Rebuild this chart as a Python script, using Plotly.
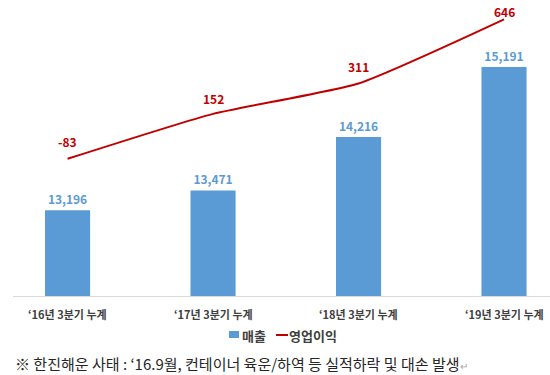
import plotly.graph_objects as go

categories = ["‘16년 3분기 누계", "‘17년 3분기 누계", "‘18년 3분기 누계", "‘19년 3분기 누계"]
sales = [13196, 13471, 14216, 15191]
profit = [-83, 152, 311, 646]
series_names = ["매출", "영업이익"]
sales_labels = [f"{v:,}" for v in sales]
profit_labels = [f"{v:,}" for v in profit]
footnote = "※ 한진해운 사태 : ‘16.9월, 컨테이너 육운/하역 등 실적하락 및 대손 발생"

FONT = "Noto Sans CJK KR"
BLUE = "#5B9BD5"
RED = "#C00000"
xs = list(range(len(categories)))
profit_label_shift = [17, 15, 17, 8]  # pixel offsets of the profit labels above their points

W, H = 550, 375
L, R, T, B = 13, 0, 9, 79
PW, PH = W - L - R, H - T - B


def px(x):
    return (x - L) / PW


def py(y):
    return (H - B - y) / PH


fig = go.Figure()
fig.add_trace(go.Bar(
    x=xs, y=sales, name=series_names[0], width=0.31,
    marker=dict(color=BLUE, line=dict(width=0)),
    text=sales_labels, textposition="outside", cliponaxis=False,
    textfont=dict(family=FONT, size=12, color=BLUE, weight="bold"),
    showlegend=False, hoverinfo="skip",
))
fig.add_trace(go.Scatter(
    x=xs, y=profit, name=series_names[1], yaxis="y2", mode="lines",
    line=dict(color=RED, width=2, shape="spline", smoothing=0.5),
    cliponaxis=False, showlegend=False, hoverinfo="skip",
))

annotations = [
    dict(text=t, xref="x", yref="y2", x=x, y=v, yshift=s, xanchor="center", yanchor="middle",
         showarrow=False, font=dict(family=FONT, size=12, color=RED, weight="bold"))
    for x, v, t, s in zip(xs, profit, profit_labels, profit_label_shift)
]
annotations += [
    dict(text=c, xref="x", yref="paper", x=x, y=py(314), xanchor="center", yanchor="middle",
         showarrow=False, font=dict(family=FONT, size=11, color="#404040", weight="bold"))
    for x, c in zip(xs, categories)
]
# legend (drawn by hand to match the compact Excel legend)
legend_font = dict(family=FONT, size=13, color="#404040", weight="bold")
annotations += [
    dict(text=series_names[0], xref="paper", yref="paper", x=px(240), y=py(335),
         xanchor="left", yanchor="middle", showarrow=False, font=legend_font),
    dict(text=series_names[1], xref="paper", yref="paper", x=px(287), y=py(335),
         xanchor="left", yanchor="middle", showarrow=False, font=legend_font),
]
shapes = [
    dict(type="rect", xref="paper", yref="paper", x0=px(229), x1=px(239), y0=py(338), y1=py(331),
         fillcolor=BLUE, line=dict(width=0)),
    dict(type="line", xref="paper", yref="paper", x0=px(276), x1=px(288), y0=py(335), y1=py(335),
         line=dict(color=RED, width=2)),
]
annotations.append(
    dict(text=footnote + "<span style='color:#A6A6A6;font-size:10px'>↵</span>",
         xref="paper", yref="paper", x=0, y=py(363), xanchor="left", yanchor="middle",
         showarrow=False, font=dict(family=FONT, size=15, color="#262626"))
)

fig.update_layout(
    width=W, height=H,
    margin=dict(l=L, r=R, t=T, b=B, autoexpand=False),
    paper_bgcolor="white", plot_bgcolor="white",
    font=dict(family=FONT, color="#404040"),
    showlegend=False,
    hovermode=False,
    xaxis=dict(range=[-0.375, 3.316], tickmode="array", tickvals=xs, showticklabels=False,
               showline=True, linecolor="#D9D9D9", linewidth=1, showgrid=False, zeroline=False,
               ticks="", automargin=False),
    yaxis=dict(range=[12000, 16000], visible=False, showgrid=False, zeroline=False, automargin=False),
    yaxis2=dict(range=[-800, 700], overlaying="y", side="right", visible=False,
                showgrid=False, zeroline=False, automargin=False),
    annotations=annotations,
    shapes=shapes,
)

# remove the browser's default 8px body margin so the figure sits at the page's top-left corner
fig.write_html("out.html", config={"displayModeBar": False},
               post_script="document.body.style.margin='0';")
